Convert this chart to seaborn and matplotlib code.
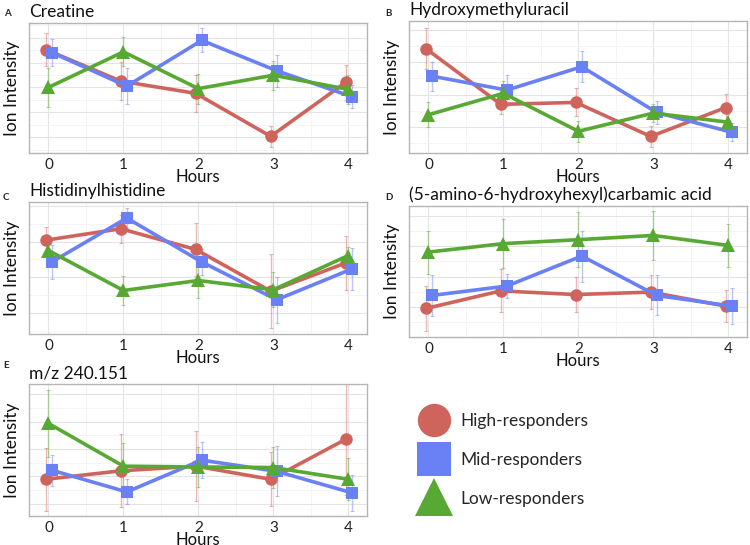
import numpy as np
import pandas as pd
import matplotlib
matplotlib.use("Agg")
import matplotlib.pyplot as plt
from matplotlib.lines import Line2D
from matplotlib.ticker import MultipleLocator
import seaborn as sns

# =====================================
# Data (arbitrary intensity units)
# =====================================
hours = [0, 1, 2, 3, 4]
groups = ["High-responders", "Mid-responders", "Low-responders"]

creatine_mean = {"High-responders": [4.52, 3.25, 2.76, 1.03, 3.20],
                 "Mid-responders": [4.40, 3.05, 4.89, 3.67, 2.63],
                 "Low-responders": [3.00, 4.43, 2.95, 3.49, 2.92]}
creatine_err = {"High-responders": [0.67, 0.77, 0.75, 0.43, 0.72],
                "Mid-responders": [0.53, 0.72, 0.48, 0.65, 0.47],
                "Low-responders": [0.78, 0.58, 0.60, 0.58, 0.58]}

hmu_mean = {"High-responders": [3.42, 1.70, 1.76, 0.71, 1.60],
            "Mid-responders": [2.57, 2.14, 2.86, 1.45, 0.84],
            "Low-responders": [1.38, 2.04, 0.87, 1.43, 1.15]}
hmu_err = {"High-responders": [0.64, 0.31, 0.43, 0.31, 0.42],
           "Mid-responders": [0.45, 0.48, 0.48, 0.36, 0.27],
           "Low-responders": [0.38, 0.38, 0.33, 0.28, 0.25]}

hishis_mean = {"High-responders": [3.04, 3.36, 2.78, 1.61, 2.40],
               "Mid-responders": [2.43, 3.66, 2.43, 1.37, 2.23],
               "Low-responders": [2.75, 1.63, 1.91, 1.65, 2.61]}
hishis_err = {"High-responders": [0.36, 0.39, 0.75, 1.04, 0.76],
              "Mid-responders": [0.47, 0.29, 0.37, 0.65, 0.60],
              "Low-responders": [0.27, 0.40, 0.50, 0.49, 0.23]}

carbamic_mean = {"High-responders": [0.95, 1.53, 1.41, 1.49, 1.03],
                 "Mid-responders": [1.38, 1.69, 2.68, 1.38, 1.03],
                 "Low-responders": [2.81, 3.09, 3.22, 3.36, 3.03]}
carbamic_err = {"High-responders": [0.74, 0.71, 0.58, 0.55, 0.53],
                "Mid-responders": [0.68, 0.40, 0.84, 0.66, 0.58],
                "Low-responders": [0.71, 0.81, 0.90, 0.80, 0.70]}

mz240_mean = {"High-responders": [1.89, 2.20, 2.37, 1.89, 3.35],
              "Mid-responders": [2.22, 1.43, 2.59, 2.18, 1.40],
              "Low-responders": [3.93, 2.37, 2.34, 2.32, 1.89]}
mz240_err = {"High-responders": [1.14, 1.33, 1.28, 0.98, 2.02],
             "Mid-responders": [0.57, 0.46, 0.67, 0.91, 0.66],
             "Low-responders": [1.23, 0.86, 0.72, 0.75, 0.76]}

# =====================================
# Styling
# =====================================
palette = {"High-responders": "#cf645c",
           "Mid-responders": "#6a80f5",
           "Low-responders": "#58a934"}
markers = {"High-responders": "o", "Mid-responders": "s", "Low-responders": "^"}
dodge = {"High-responders": -0.035, "Mid-responders": 0.045, "Low-responders": 0.0}

sns.set_theme(style="white")
plt.rcParams["font.family"] = ["Lato", "DejaVu Sans"]

W, H = 750, 545
fig = plt.figure(figsize=(W / 100, H / 100), dpi=100)


def px_axes(x0, y0, x1, y1):
    return fig.add_axes([x0 / W, 1 - y1 / H, (x1 - x0) / W, (y1 - y0) / H])


panels = [
    ("A", "Creatine", creatine_mean, creatine_err, (29, 23, 367, 153), (0.36, 5.59)),
    ("B", "Hydroxymethyluracil", hmu_mean, hmu_err, (409, 21, 747, 153), (0.20, 4.27)),
    ("C", "Histidinylhistidine", hishis_mean, hishis_err, (29, 202, 367, 334), (0.41, 4.11)),
    ("D", "(5-amino-6-hydroxyhexyl)carbamic acid", carbamic_mean, carbamic_err,
     (409, 206, 747, 337), (0.01, 4.33)),
    ("E", "m/z 240.151", mz240_mean, mz240_err, (29, 384, 367, 516), (0.55, 5.37)),
]
letter_pos = {"A": (4, 13), "B": (385, 13), "C": (3, 198), "D": (385, 198), "E": (3, 366)}

for letter, title, means, errs, box, ylim in panels:
    rows = []
    for g in groups:
        for h, m, e in zip(hours, means[g], errs[g]):
            rows.append({"group": g, "hour": h, "x": h + dodge[g], "value": m, "err": e})
    df = pd.DataFrame(rows)

    ax = px_axes(*box)
    for g in groups:
        sub = df[df["group"] == g]
        ax.errorbar(sub["x"], sub["value"], yerr=sub["err"], fmt="none",
                    ecolor=palette[g], alpha=0.45, elinewidth=1.0, capsize=1.5,
                    capthick=0.8, zorder=2)
    sns.lineplot(data=df, x="x", y="value", hue="group", style="group",
                 palette=palette, markers=markers, dashes=False, linewidth=2.6,
                 markersize=9, markeredgewidth=0, ax=ax, legend=False, zorder=3)
    for line in ax.get_lines():
        if line.get_marker() == "^":
            line.set_markersize(10.5)

    ax.set_xlim(-0.26, 4.25)
    ax.set_ylim(*ylim)
    ax.xaxis.set_major_locator(MultipleLocator(1))
    ax.xaxis.set_minor_locator(MultipleLocator(0.5))
    ax.yaxis.set_major_locator(MultipleLocator(1))
    ax.yaxis.set_minor_locator(MultipleLocator(0.5))
    ax.grid(which="major", color="#e4e4e4", linewidth=0.8)
    ax.grid(which="minor", color="#f2f2f2", linewidth=0.6)
    ax.set_axisbelow(True)
    ax.set_yticklabels([])
    ax.tick_params(axis="y", which="both", length=0)
    ax.tick_params(axis="x", which="major", length=2.5, color="#b3b3b3",
                   labelsize=11, pad=1, labelcolor="#222222")
    ax.tick_params(axis="x", which="minor", length=0)
    for s in ax.spines.values():
        s.set_color("#b5b5b5")
        s.set_linewidth(1.0)
    ax.set_xlabel("Hours", fontsize=12, labelpad=-2, color="#111111")
    ax.set_ylabel("Ion Intensity", fontsize=12.5, labelpad=3, color="#111111")
    ax.set_title(title, loc="left", fontsize=12.5, pad=4, color="#111111")

    lx, ly = letter_pos[letter]
    fig.text(lx / W, 1 - ly / H, letter, fontsize=7, fontweight="bold",
             va="center", ha="left")

# =====================================
# Legend in the empty slot
# =====================================
handles = [Line2D([], [], linestyle="none", marker=markers[g], color=palette[g],
                  markersize=24 if g != "Low-responders" else 27, markeredgewidth=0)
           for g in groups]
fig.legend(handles, groups, loc="center left", bbox_to_anchor=(410 / W, 1 - 460 / H),
           frameon=False, fontsize=12.5, handletextpad=0.5, labelspacing=1.3,
           borderaxespad=0)

fig.savefig("out.png", dpi=100)
